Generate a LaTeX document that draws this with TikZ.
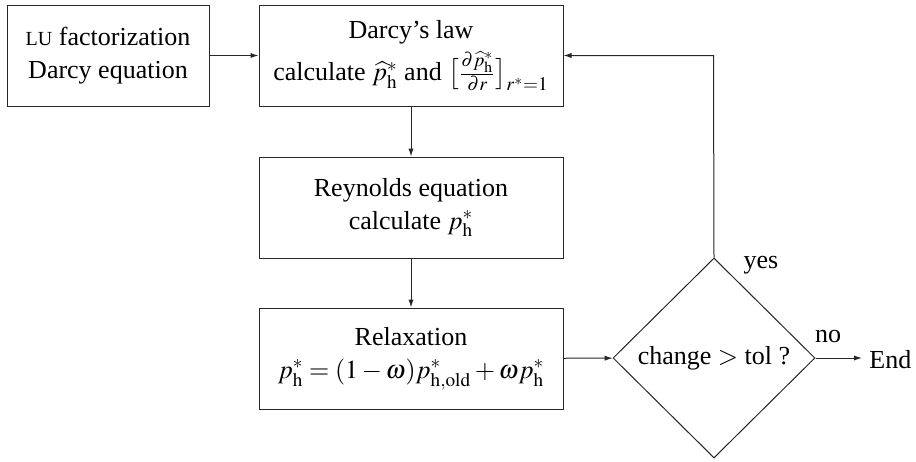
\documentclass[tikz,border=0pt]{standalone}
\usepackage{mathptmx}
\usepackage[no-math]{fontspec}
\setmainfont{Liberation Serif}
\usetikzlibrary{shapes.geometric,arrows.meta}
\begin{document}
\begin{tikzpicture}[x=0.5pt,y=-0.5pt,
  box/.style={draw=black!85,line width=0.5pt,minimum width=101pt,minimum height=50.5pt,align=center,inner sep=0pt,font=\fontsize{13}{16.5}\selectfont},
  dec/.style={draw=black!85,line width=0.5pt,shape=diamond,minimum width=101pt,minimum height=100pt,inner sep=0pt,font=\fontsize{13}{16.5}\selectfont},
  arr/.style={draw=black!85,line width=0.5pt,-{Latex[length=4pt,width=2.6pt]}},
  lbl/.style={font=\fontsize{13}{14}\selectfont,inner sep=0pt}]
\useasboundingbox (0,0) rectangle (916,461);
\node[box] (lu) at (108,55.5) {{\fontsize{10}{12}\selectfont LU} factorization\\Darcy equation};
\node[box,minimum width=152pt] (darcy) at (411,55.5) {Darcy's law\\[3pt]calculate $\widehat{p}^*_{\mathrm{h}}$ and $\bigl[\frac{\partial\widehat{p}^*_{\mathrm{h}}}{\partial r}\bigr]_{r^*=1}$};
\node[box,minimum width=152pt] (rey) at (411,207.5) {Reynolds equation\\calculate $p^*_{\mathrm{h}}$};
\node[box,minimum width=152pt] (relax) at (411,358.5) {Relaxation\\$p^*_{\mathrm{h}}=(1-\omega)p^*_{\mathrm{h,old}}+\omega p^*_{\mathrm{h}}$};
\node[dec] (chk) at (714,358) {change $>$ tol ?};
\node[lbl,anchor=west,inner xsep=3.5pt] (end) at (862,360) {End};
\node[lbl] (yes) at (761,265) {yes};
\node[lbl] (no) at (828,336) {no};
\coordinate (c1) at (713.5,55.5);
\draw[arr] (lu) -- (darcy);
\draw[arr] (darcy) -- (rey);
\draw[arr] (rey) -- (relax);
\draw[arr] (relax) -- (chk);
\draw[arr] (chk.east) -- (chk.east -| end.west);
\draw[arr] (chk.north) -- (c1) -- (darcy.east);
\end{tikzpicture}
\end{document}
